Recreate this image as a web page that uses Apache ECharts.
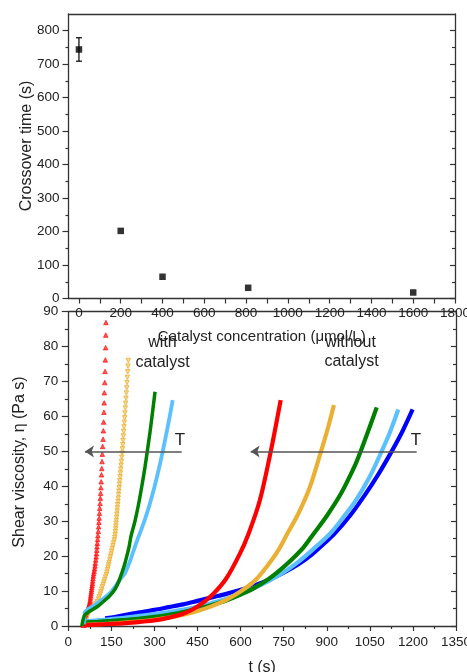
<!DOCTYPE html>
<html><head><meta charset="utf-8">
<script src="https://cdn.jsdelivr.net/npm/echarts@6/dist/echarts.min.js"></script>
<style>html,body{margin:0;padding:0;background:#fff}#c{width:467px;height:672px}</style>
</head><body><div id="c"></div>
<script>
const FONT = '"Liberation Sans", Arial, sans-serif';

// ---------- top panel: crossover time vs catalyst concentration ----------
const concentration = [0, 200, 400, 810, 1600];
const crossoverTime = [744, 202, 65, 32, 18];
const crossoverErr  = [35, 0, 0, 0, 0];
const topXTicks  = [0,100,200,300,400,500,600,700,800,900,1000,1100,1200,1300,1400,1500,1600,1700,1800];
const topXLabels = [0,200,400,600,800,1000,1200,1400,1600,1800];
const topYTicks  = [0,100,200,300,400,500,600,700,800];
const topYMinor  = [50,150,250,350,450,550,650,750];

// ---------- bottom panel: shear viscosity vs time ----------
// with catalyst (markers)
const redWith = [[131,86.9],[130.5,83.3],[130,79.7],[129,76.2],[128,72.9],[127,69.7],[125.5,66.8],[125,63.9],[124,61.2],[123,58.4],[122,55.9],[121,53.5],[119.5,51.4],[118.5,49.2],[117.5,47.1],[116.5,45.1],[115.5,43.3],[114.5,41.3],[113.5,39.6],[112.5,38.0],[111.5,36.6],[110.5,35.1],[109.5,33.7],[108.5,32.3],[107.5,30.9],[106.5,29.7],[105.5,28.4],[104.5,27.1],[103,25.9],[102,24.8],[101,23.7],[100,22.7],[99,21.7],[98,20.7],[97,19.8],[95.5,18.9],[94,18.0],[93,17.2],[91.5,16.4],[90,15.7],[88.5,15.0],[87,14.3],[86,13.6],[85,12.9],[84,12.2],[83,11.6],[82,11.0],[81,10.4],[80,9.8],[79,9.2],[78,8.6],[77,8.0],[76,7.4],[75,6.9],[74,6.4],[72,5.9],[70,5.4],[68,5.0],[66,4.6],[64,4.3],[62,3.8],[60,3.2],[58,2.5],[56,1.8],[55,1.2],[54,0.8],[53,0.4],[52,0.2]];
const orangeWith = [[209,76],[207.9,74.4],[206.7,72.8],[205.6,71.2],[204.5,69.7],[203.4,68.2],[202.2,66.7],[201,65.2],[199.8,63.8],[198.6,62.4],[197.4,61],[196.2,59.6],[195.1,58.3],[194,57],[192.8,55.7],[191.7,54.4],[190.6,53.1],[189.6,51.9],[188.6,50.7],[187.5,49.5],[186.2,48.3],[185,47.1],[183.8,46],[182.7,44.9],[181.5,43.8],[180.4,42.7],[179.3,41.6],[178.2,40.6],[177.2,39.6],[176.1,38.6],[175.1,37.6],[174,36.6],[173,35.6],[172,34.7],[171.1,33.8],[170.2,32.9],[169.2,32],[168.3,31.1],[167.4,30.2],[166.5,29.4],[165.7,28.6],[164.9,27.8],[164,27],[163.2,26.2],[162,25.4],[159.9,24.6],[157.7,23.8],[155.5,23],[153.3,22.2],[151.1,21.4],[148.9,20.6],[146.7,19.8],[144.4,19],[142.2,18.2],[140.3,17.5],[138.4,16.8],[136.5,16.1],[134.5,15.4],[132.2,14.7],[129.6,14],[126.9,13.3],[124.3,12.6],[121.6,11.9],[118.9,11.2],[116.3,10.5],[113.6,9.8],[111,9.1],[108.3,8.4],[105.6,7.7],[100.8,7],[95.3,6.4],[89.8,5.8],[84.3,5.2],[78.8,4.6],[73.3,4],[69,3.4],[66,2.6],[63,1.8],[60.5,1],[58.5,0.3]];
const greenWith = [[47,0],[52,2],[58,3.2],[70,4],[85,4.7],[105,5.8],[128,7.4],[145,8.7],[163,10.6],[175,12.6],[186,15.1],[196,17.6],[205,20.4],[212,22.8],[218,25.6],[232,30],[245,35],[257,40.5],[267,45.5],[275,50],[284,55.2],[293,61],[302,67.1]];
const lightBlueWith = [[54,0.5],[56,2.5],[58,4],[68,4.8],[85,5.6],[105,6.8],[125,8],[145,9.4],[165,11.5],[180,13.3],[197,15.1],[212,18],[225,21],[240,24.6],[255,27.8],[270,31.3],[285,35.3],[300,39.8],[315,44.9],[328.7,50],[340,54.5],[352,59.5],[363.5,64.7]];
// without catalyst (lines)
const redWithout = [[55,0.2],[100,0.4],[150,0.6],[200,0.85],[250,1.2],[300,1.6],[350,2.4],[400,3.5],[450,5.6],[500,8.8],[550,13.6],[598,20.8],[628,26.5],[667,36],[705,50],[739.5,64.7]];
const orangeWithout = [[58,0.3],[100,0.5],[150,0.7],[200,1.0],[250,1.35],[300,1.8],[350,2.4],[400,3.2],[450,4.3],[500,5.7],[550,7.5],[598,9.8],[650,13],[691,17],[730,21.5],[763,26.5],[800,32],[840,39.5],[880,50],[905,57],[925,63.3]];
const greenWithout = [[52,1.0],[100,1.2],[150,1.45],[200,1.75],[250,2.1],[300,2.6],[350,3.2],[400,4.0],[450,4.9],[500,6.0],[550,7.3],[598,8.9],[650,11],[700,13.6],[737,16],[780,19.2],[820,22.6],[855,26.5],[900,31.5],[950,38],[1000,46.3],[1018,50],[1045,56],[1074,62.6]];
const lightBlueWithout = [[58,1.3],[100,1.6],[150,2.0],[200,2.4],[250,2.9],[300,3.4],[350,4.0],[400,4.7],[450,5.5],[500,6.6],[550,7.8],[598,9.3],[650,11],[700,13],[750,15.4],[800,18.3],[850,21.8],[912,26.5],[960,31.4],[1000,35.8],[1050,42.8],[1091,50],[1120,55.5],[1149,62]];
const blueWithout = [[128,2.2],[150,2.4],[200,3.2],[250,3.9],[300,4.6],[350,5.4],[400,6.2],[450,7.2],[500,8.2],[550,9.2],[598,10.3],[650,11.7],[700,13.3],[750,15.3],[800,17.6],[850,20.6],[900,24.3],[928,26.5],[980,31.5],[1030,37.2],[1080,43.5],[1126,50],[1165,56],[1199,62]];
// arrows marking temperature direction
const arrowY = 50;
const arrowStartX = [395, 1213];
const arrowEndX = [58, 635];

const C = {red:'#ff0000', orange:'#ebb033', green:'#008000', lightBlue:'#5bc0ff', blue:'#0000ff'};
const AX = '#333';
const lbl = {color:'#222', fontSize:13.5, fontFamily:FONT, formatter:(v)=>String(v)};

const chart = echarts.init(document.getElementById('c'), null, {renderer:'canvas'});

function frameAxis(extra) {
  return Object.assign({type:'value', axisLine:{show:true, onZero:false, lineStyle:{color:AX, width:1.3}},
    axisTick:{show:false}, axisLabel:{show:false}, splitLine:{show:false}}, extra);
}
const hiddenLine = {show:false, onZero:false};

const option = {
  animation:false,
  backgroundColor:'#fff',
  grid:[
    {left:68.5, right:12, top:14, height:284.5, outerBoundsMode:'none'},
    {left:68.3, right:11, top:311.7, height:314.3, outerBoundsMode:'none'}
  ],
  xAxis:[
    frameAxis({gridIndex:0, position:'bottom', min:-50, max:1800,
      axisTick:{show:true, customValues:topXTicks, length:5, lineStyle:{color:AX, width:1.2}},
      axisLabel:Object.assign({show:true, customValues:topXLabels, margin:7.5}, lbl),
      name:'Catalyst concentration (\u03bcmol/L)', nameLocation:'middle', nameGap:31,
      nameTextStyle:{fontSize:15, fontFamily:FONT, color:'#222'}}),
    frameAxis({gridIndex:0, position:'top', min:-50, max:1800}),
    frameAxis({gridIndex:1, position:'bottom', min:0, max:1350, interval:150,
      axisTick:{show:true, length:5, lineStyle:{color:AX, width:1.2}},
      minorTick:{show:true, splitNumber:2, length:3, lineStyle:{color:AX, width:1.2}},
      axisLabel:Object.assign({show:true, margin:9}, lbl),
      name:'t (s)', nameLocation:'middle', nameGap:34,
      nameTextStyle:{fontSize:16, fontFamily:FONT, color:'#222'}}),
    frameAxis({gridIndex:1, position:'top', min:0, max:1350})
  ],
  yAxis:[
    frameAxis({gridIndex:0, position:'left', min:0, max:850,
      axisTick:{show:true, customValues:topYTicks, length:6, lineStyle:{color:AX, width:1.2}},
      axisLabel:Object.assign({show:true, customValues:topYTicks, margin:9}, lbl)}),
    frameAxis({gridIndex:0, position:'left', min:0, max:850, axisLine:hiddenLine,
      axisTick:{show:true, customValues:topYMinor, length:3, lineStyle:{color:AX, width:1.2}}}),
    frameAxis({gridIndex:0, position:'right', min:0, max:850,
      axisTick:{show:true, inside:true, customValues:topYTicks, length:5, lineStyle:{color:AX, width:1.2}}}),
    frameAxis({gridIndex:0, position:'right', min:0, max:850, axisLine:hiddenLine,
      axisTick:{show:true, inside:true, customValues:topYMinor, length:3, lineStyle:{color:AX, width:1.2}}}),
    frameAxis({gridIndex:1, position:'left', min:0, max:90, interval:10,
      axisTick:{show:true, length:6.5, lineStyle:{color:AX, width:1.2}},
      minorTick:{show:true, splitNumber:2, length:3.5, lineStyle:{color:AX, width:1.2}},
      axisLabel:Object.assign({show:true, margin:10}, lbl)}),
    frameAxis({gridIndex:1, position:'right', min:0, max:90, interval:10,
      axisTick:{show:true, inside:true, length:5, lineStyle:{color:AX, width:1.2}},
      minorTick:{show:true, splitNumber:2, length:3, lineStyle:{color:AX, width:1.2}}})
  ],
  graphic:[
    {type:'text', x:27, y:146, rotation:Math.PI/2, style:{text:'Crossover time (s)', fontSize:16, fontFamily:FONT, fill:'#222', align:'center', verticalAlign:'middle'}},
    {type:'text', x:20, y:462, rotation:Math.PI/2, style:{text:'Shear viscosity, \u03b7 (Pa s)', fontSize:16, fontFamily:FONT, fill:'#222', align:'center', verticalAlign:'middle'}},
    {type:'text', x:162.5, y:343, style:{text:'with', fontSize:16, fontFamily:FONT, fill:'#222', align:'center', verticalAlign:'middle'}},
    {type:'text', x:162.5, y:363, style:{text:'catalyst', fontSize:16, fontFamily:FONT, fill:'#222', align:'center', verticalAlign:'middle'}},
    {type:'text', x:350.5, y:343, style:{text:'without', fontSize:16, fontFamily:FONT, fill:'#222', align:'center', verticalAlign:'middle'}},
    {type:'text', x:351.5, y:362, style:{text:'catalyst', fontSize:16, fontFamily:FONT, fill:'#222', align:'center', verticalAlign:'middle'}},
    {type:'text', x:180, y:440, style:{text:'T', fontSize:17, fontFamily:FONT, fill:'#222', align:'center', verticalAlign:'middle'}},
    {type:'text', x:416, y:440, style:{text:'T', fontSize:17, fontFamily:FONT, fill:'#222', align:'center', verticalAlign:'middle'}}
  ],
  series:[
    {type:'custom', xAxisIndex:0, yAxisIndex:0, z:3,
      data: concentration.map((c,i)=>[c, crossoverTime[i]-crossoverErr[i], crossoverTime[i]+crossoverErr[i], crossoverErr[i]]).filter(d=>d[3]>0),
      renderItem:(params, api)=>{
        const lo = api.coord([api.value(0), api.value(1)]);
        const hi = api.coord([api.value(0), api.value(2)]);
        const s = {stroke:'#000', lineWidth:1.2};
        return {type:'group', children:[
          {type:'line', shape:{x1:lo[0], y1:lo[1], x2:hi[0], y2:hi[1]}, style:s},
          {type:'line', shape:{x1:lo[0]-3, y1:lo[1], x2:lo[0]+3, y2:lo[1]}, style:s},
          {type:'line', shape:{x1:hi[0]-3, y1:hi[1], x2:hi[0]+3, y2:hi[1]}, style:s}
        ]};
      }},
    {type:'scatter', xAxisIndex:0, yAxisIndex:0, z:4, symbol:'rect', symbolSize:6.5,
      itemStyle:{color:'#000'}, data: concentration.map((c,i)=>[c, crossoverTime[i]])},

    {type:'line', xAxisIndex:2, yAxisIndex:4, data:blueWithout, smooth:0.3, showSymbol:false, lineStyle:{color:C.blue, width:4.2}},
    {type:'line', xAxisIndex:2, yAxisIndex:4, data:lightBlueWithout, smooth:0.3, showSymbol:false, lineStyle:{color:C.lightBlue, width:4.2}},
    {type:'line', xAxisIndex:2, yAxisIndex:4, data:greenWithout, smooth:0.3, showSymbol:false, lineStyle:{color:C.green, width:4.2}},
    {type:'line', xAxisIndex:2, yAxisIndex:4, data:orangeWithout, smooth:0.3, showSymbol:false, lineStyle:{color:C.orange, width:4.2}},
    {type:'line', xAxisIndex:2, yAxisIndex:4, data:redWithout, smooth:0.3, showSymbol:false, lineStyle:{color:C.red, width:4.2}},

    {type:'line', xAxisIndex:2, yAxisIndex:4, data:lightBlueWith, smooth:0.3, showSymbol:false, lineStyle:{color:C.lightBlue, width:3.8}},
    {type:'line', xAxisIndex:2, yAxisIndex:4, data:greenWith, smooth:0.3, showSymbol:false, lineStyle:{color:C.green, width:3.5}},
    {type:'scatter', xAxisIndex:2, yAxisIndex:4, data:orangeWith, symbol:'triangle', symbolRotate:180, symbolSize:4.5,
      itemStyle:{color:'#f3cf80', borderColor:C.orange, borderWidth:1}},
    {type:'scatter', xAxisIndex:2, yAxisIndex:4, data:redWith, symbol:'triangle', symbolSize:4.5,
      itemStyle:{color:'#ff3030', borderColor:C.red, borderWidth:0.8}},

    {type:'lines', coordinateSystem:'cartesian2d', xAxisIndex:2, yAxisIndex:4, z:5,
      symbol:['none','arrow'], symbolSize:[6,9],
      lineStyle:{color:'#555', width:1.5, opacity:1},
      data: arrowStartX.map((s,i)=>({coords:[[s, arrowY],[arrowEndX[i], arrowY]]}))}
  ]
};
chart.setOption(option);
</script></body></html>
